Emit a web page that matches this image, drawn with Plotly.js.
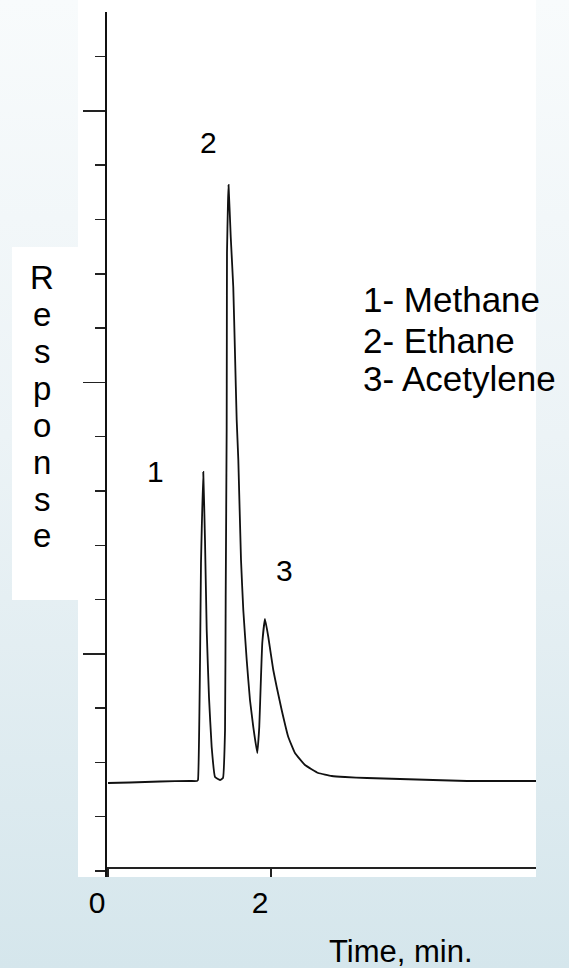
<!DOCTYPE html>
<html>
<head>
<meta charset="utf-8">
<script src="https://cdn.plot.ly/plotly-3.0.1.min.js"></script>
<style>
  html, body { margin: 0; padding: 0; }
  body { width: 569px; height: 968px; overflow: hidden;
         background: linear-gradient(to bottom, #f8fbfc 0%, #ecf3f6 45%, #d5e6ec 100%); }
  #chart { width: 569px; height: 968px; }
</style>
</head>
<body>
<div id="chart"></div>
<script>
// ---- data ----
const timeMin = [0, 0.270, 0.638, 1.006, 1.092, 1.104, 1.129, 1.141, 1.150, 1.169, 1.190, 1.211, 1.239, 1.272, 1.313, 1.374, 1.411,
  1.436, 1.444, 1.456, 1.458, 1.460, 1.472, 1.479, 1.506, 1.537, 1.558, 1.579, 1.599, 1.632, 1.660, 1.702, 1.742, 1.783, 1.832,
  1.856, 1.877, 1.893, 1.926, 1.967, 2.028, 2.070, 2.131, 2.212, 2.294, 2.417, 2.580, 2.745, 2.908, 3.178, 3.583, 3.988, 4.405, 4.810, 5.252];
const response = [1.621, 1.630, 1.649, 1.658, 1.658, 1.676, 3.831, 5.673, 6.281, 7.349, 6.097, 4.439, 3.205, 2.284, 1.731, 1.676, 1.713,
  2.597, 5.047, 8.123, 9.836, 11.383, 12.304, 12.636, 11.678, 10.757, 9.541, 8.307, 7.570, 5.728, 4.807, 3.886, 3.150, 2.652, 2.173,
  2.652, 3.573, 4.200, 4.642, 4.310, 3.702, 3.389, 2.966, 2.468, 2.173, 1.952, 1.805, 1.750, 1.731, 1.713, 1.695, 1.676, 1.658, 1.658, 1.658];
const peakNumbers = ['1', '2', '3'];
const compounds = ['Methane', 'Ethane', 'Acetylene'];
const xTickVals = [0, 2];
const xTickText = ['0', '2'];
const yTitle = 'Response';
const xTitle = 'Time, min.';

// ---- layout helpers (pixel -> paper) ----
const W = 569, H = 968;
const L = 107, R = 536, T = 12, B = 877;
const px = x => (x - L) / (R - L);
const py = y => (B - y) / (B - T);
const FONT = 'Liberation Sans, Arial, Helvetica, sans-serif';

const annotations = [];
// peak number labels (placed in data coords near each peak)
const peakLabelPos = [[0.577, 7.35], [1.227, 13.41], [2.160, 5.526]];
peakNumbers.forEach((n, i) => annotations.push({
  text: n, x: peakLabelPos[i][0], y: peakLabelPos[i][1], xref: 'x', yref: 'y',
  showarrow: false, xanchor: 'center', yanchor: 'middle',
  font: { family: FONT, size: 30, color: '#000' }
}));
// compound key
const keyY = [300, 340, 379];
compounds.forEach((c, i) => annotations.push({
  text: (i + 1) + '- ' + c, x: px(361), y: py(keyY[i]), xref: 'paper', yref: 'paper',
  showarrow: false, xanchor: 'left', yanchor: 'middle',
  font: { family: FONT, size: 35, color: '#000' }
}));
// vertical stacked y title
yTitle.split('').forEach((ch, i) => annotations.push({
  text: ch, x: px(42), y: py(277 + 37 * i), xref: 'paper', yref: 'paper',
  showarrow: false, xanchor: 'center', yanchor: 'middle',
  font: { family: FONT, size: 33, color: '#000' }
}));
// x title
annotations.push({
  text: xTitle, x: px(401), y: py(951), xref: 'paper', yref: 'paper',
  showarrow: false, xanchor: 'center', yanchor: 'middle',
  font: { family: FONT, size: 31, color: '#000' }
});

const data = [{
  x: timeMin, y: response, type: 'scatter', mode: 'lines',
  line: { color: '#111', width: 1.8, shape: 'spline', smoothing: 0.3 },
  hoverinfo: 'skip'
}];

const layout = {
  width: W, height: H,
  margin: { l: L, r: W - R, t: T, b: H - B, pad: 0 },
  paper_bgcolor: 'rgba(0,0,0,0)',
  plot_bgcolor: 'rgba(0,0,0,0)',
  showlegend: false,
  xaxis: {
    range: [(L - 108) / 81.5, (R - 108) / 81.5],
    anchor: 'free', position: py(868),
    showline: true, linecolor: '#222', linewidth: 2,
    showgrid: false, zeroline: false,
    tickmode: 'array', tickvals: xTickVals, ticktext: xTickText,
    ticks: 'outside', ticklen: 8, tickwidth: 1.5, tickcolor: '#222',
    ticklabelshift: -11, ticklabelstandoff: 0,
    tickfont: { family: FONT, size: 30, color: '#000' }
  },
  yaxis: {
    range: [(871 - B) / 54.29, (871 - T) / 54.29],
    showline: true, linecolor: '#111', linewidth: 2,
    showgrid: false, zeroline: false, showticklabels: false,
    tickmode: 'linear', tick0: 4, dtick: 5,
    ticks: 'outside', ticklen: 22, tickwidth: 1.5, tickcolor: '#222',
    minor: { dtick: 1, tick0: 0, ticks: 'outside', ticklen: 10, tickwidth: 1.5, tickcolor: '#222', showgrid: false }
  },
  shapes: [
    { type: 'rect', xref: 'paper', yref: 'paper', x0: px(78), x1: px(536), y0: py(877), y1: py(0),
      fillcolor: '#ffffff', line: { width: 0 }, layer: 'below' },
    { type: 'rect', xref: 'paper', yref: 'paper', x0: px(12), x1: px(78), y0: py(600), y1: py(247),
      fillcolor: '#ffffff', line: { width: 0 }, layer: 'below' }
  ],
  annotations: annotations
};

Plotly.newPlot('chart', data, layout, { staticPlot: true, displayModeBar: false });
</script>
</body>
</html>
